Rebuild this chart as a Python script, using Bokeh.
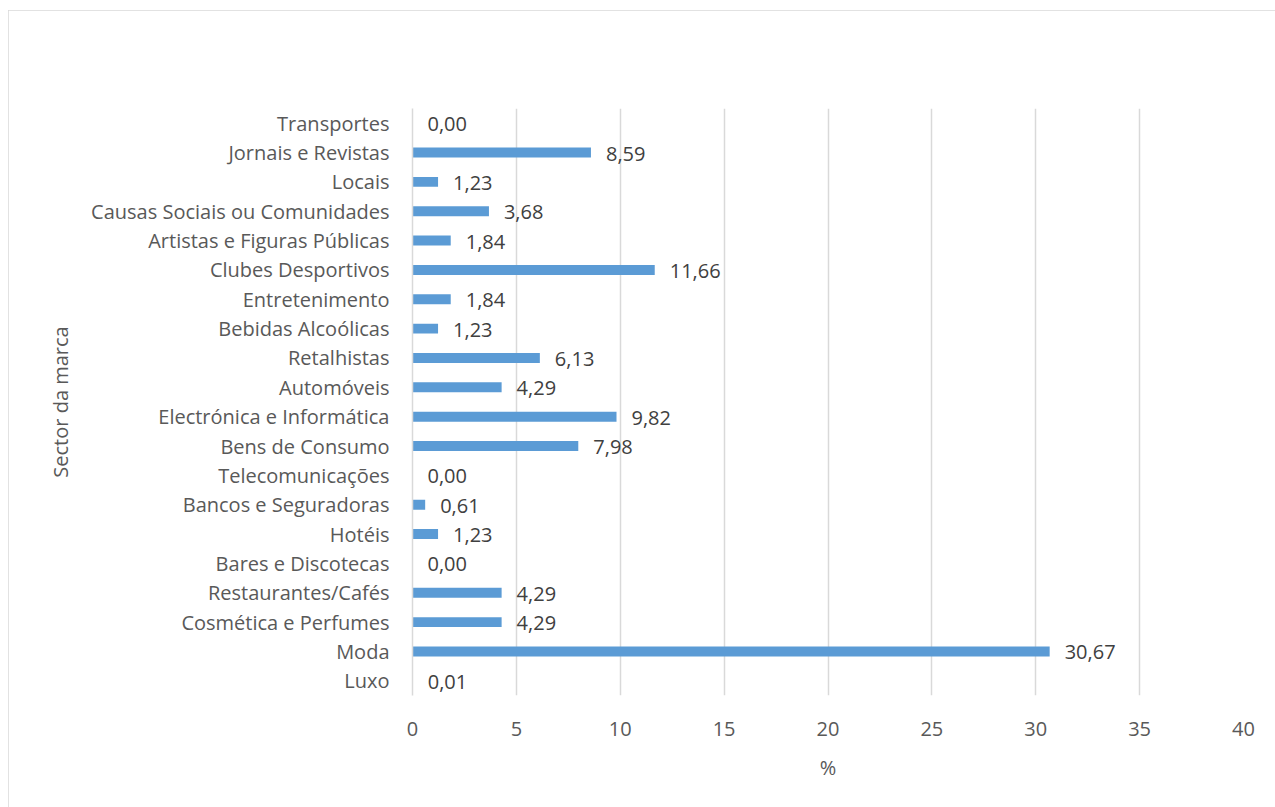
from bokeh.plotting import figure
from bokeh.models import FactorRange, FixedTicker, ColumnDataSource, LabelSet
from bokeh.core.properties import value
from bokeh.embed import file_html
from bokeh.resources import INLINE

sectors = ["Luxo", "Moda", "Cosmética e Perfumes", "Restaurantes/Cafés",
           "Bares e Discotecas", "Hotéis", "Bancos e Seguradoras",
           "Telecomunicações", "Bens de Consumo", "Electrónica e Informática",
           "Automóveis", "Retalhistas", "Bebidas Alcoólicas", "Entretenimento",
           "Clubes Desportivos", "Artistas e Figuras Públicas",
           "Causas Sociais ou Comunidades", "Locais", "Jornais e Revistas",
           "Transportes"]
percent = [0.01, 30.67, 4.29, 4.29, 0.00, 1.23, 0.61, 0.00, 7.98, 9.82,
           4.29, 6.13, 1.23, 1.84, 11.66, 1.84, 3.68, 1.23, 8.59, 0.00]
x_ticks = [0, 5, 10, 15, 20, 25, 30, 35, 40]

labels = [f"{v:.2f}".replace(".", ",") for v in percent]
src = ColumnDataSource(dict(y=sectors, x=percent, lab=labels))

FONT = "Open Sans"
TXT = "#595959"
FS = "20px"

p = figure(width=1267, height=797, y_range=FactorRange(*sectors, range_padding=0),
           x_range=(0, 40), output_backend="svg", toolbar_location=None,
           min_border_left=404, min_border_right=32, min_border_top=98,
           min_border_bottom=112, margin=(10, 0, 0, 8))
p.styles = {"outline": "2px solid #d9d9d9", "outline-offset": "-2px"}
p.outline_line_color = None

p.hbar(y="y", right="x", left=0, height=0.34, source=src,
       fill_color="#5B9BD5", line_color=None)

lbl = LabelSet(x="x", y="y", text="lab", source=src, x_offset=15, y_offset=-1,
               text_align="left", text_baseline="middle",
               text_font=value(FONT), text_font_size=value(FS),
               text_color="#404040")
p.add_layout(lbl)

p.xaxis.ticker = FixedTicker(ticks=x_ticks)
p.xgrid.ticker = FixedTicker(ticks=x_ticks)
p.xgrid.grid_line_color = "#d9d9d9"
p.xgrid.grid_line_width = 1.5
p.ygrid.grid_line_color = None

for ax in (p.xaxis[0], p.yaxis[0]):
    ax.axis_line_color = None
    ax.major_tick_line_color = None
    ax.minor_tick_line_color = None
    ax.major_label_text_font = FONT
    ax.major_label_text_font_size = FS
    ax.major_label_text_color = TXT
    ax.axis_label_text_font = FONT
    ax.axis_label_text_font_size = FS
    ax.axis_label_text_color = TXT
    ax.axis_label_text_font_style = "normal"

p.yaxis.axis_line_color = "#d9d9d9"
p.yaxis.axis_line_width = 1.5

p.xaxis.major_label_standoff = 20
p.xaxis.axis_label = "%"
p.xaxis.axis_label_standoff = 15
p.yaxis.major_label_standoff = 17
p.yaxis.axis_label = "Sector da marca"
p.yaxis.axis_label_standoff = 14

open("out.html", "w").write(file_html(p, INLINE))
